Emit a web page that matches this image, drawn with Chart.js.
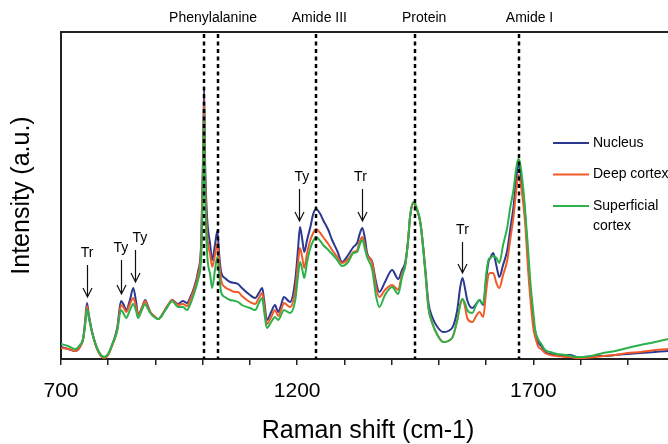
<!DOCTYPE html>
<html>
<head>
<meta charset="utf-8">
<script src="https://cdn.jsdelivr.net/npm/chart.js@4.4.1/dist/chart.umd.min.js"></script>
<style>
  html, body { margin: 0; padding: 0; background: #fff; overflow: hidden; }
  #wrap { width: 668px; height: 444px; overflow: hidden; }
</style>
</head>
<body>
<div id="wrap"><canvas id="chart" width="676" height="444"></canvas></div>
<script>
// Raman shift (cm-1)
const shift = [700, 715, 730, 740, 747, 751, 755, 759, 766, 778, 791, 800, 808, 819, 827, 833, 838, 846, 853, 859,
  863, 872, 878, 884, 889, 897, 906, 920, 931, 935, 948, 958, 967, 973, 980, 990, 997, 1001, 1003, 1005,
  1009, 1016, 1020, 1026, 1031, 1035, 1039, 1047, 1058, 1069, 1075, 1083, 1100, 1111, 1119, 1126, 1130, 1136, 1145, 1153,
  1160, 1166, 1172, 1185, 1196, 1202, 1206, 1211, 1215, 1221, 1228, 1234, 1240, 1249, 1255, 1266, 1274, 1285, 1295, 1308,
  1319, 1327, 1333, 1338, 1344, 1348, 1359, 1367, 1374, 1386, 1401, 1414, 1422, 1429, 1435, 1439, 1446, 1452, 1461, 1471,
  1478, 1486, 1497, 1509, 1528, 1539, 1545, 1550, 1556, 1560, 1571, 1579, 1586, 1594, 1600, 1605, 1609, 1615, 1622, 1628,
  1636, 1645, 1651, 1658, 1664, 1668, 1672, 1679, 1683, 1689, 1694, 1700, 1704, 1711, 1717, 1725, 1736, 1751, 1768, 1778,
  1793, 1806, 1831, 1848, 1874, 1899, 1927, 1958, 1986, 2000];

// intensity (a.u.)
const nucleus = [12, 10, 8, 12, 21, 37, 56, 44, 27, 9, 2, 5, 14, 31, 58, 54, 49, 59, 71, 57,
  45, 52, 59, 53, 47, 43, 40, 49, 57, 59, 55, 58, 56, 61, 69, 87, 119, 209, 271, 199,
  144, 114, 99, 114, 128, 104, 87, 81, 77, 76, 75, 71, 64, 61, 66, 71, 59, 39, 47, 54,
  47, 54, 62, 57, 79, 111, 132, 119, 107, 119, 132, 145, 150, 145, 139, 129, 119, 108, 97, 104,
  112, 116, 126, 131, 119, 106, 97, 77, 67, 77, 89, 80, 89, 97, 119, 142, 156, 151, 136, 92,
  56, 42, 32, 27, 31, 49, 71, 81, 69, 59, 51, 55, 59, 54, 79, 97, 101, 106, 93, 82,
  94, 109, 129, 152, 181, 194, 189, 164, 142, 99, 66, 39, 27, 16, 13, 7, 5, 4, 4, 4,
  2, 2, 3, 3, 4, 5, 6, 7, 8, 8];

const deepCortex = [11, 10, 8, 12, 20, 35, 53, 42, 26, 8, 1, 4, 13, 29, 54, 51, 47, 55, 61, 52,
  44, 52, 58, 52, 47, 43, 40, 49, 57, 59, 54, 55, 53, 59, 67, 84, 114, 199, 259, 189,
  129, 104, 92, 104, 116, 97, 79, 72, 69, 67, 67, 63, 57, 55, 61, 66, 54, 35, 42, 49,
  43, 49, 56, 52, 69, 97, 111, 101, 91, 106, 119, 126, 130, 126, 122, 115, 109, 102, 96, 100,
  107, 109, 118, 122, 112, 104, 96, 72, 62, 69, 74, 69, 85, 94, 119, 142, 156, 151, 136, 89,
  51, 36, 24, 17, 21, 39, 54, 60, 51, 41, 37, 43, 47, 42, 67, 84, 86, 86, 76, 71,
  84, 99, 119, 142, 169, 184, 179, 154, 134, 89, 59, 31, 22, 12, 10, 6, 4, 3, 2, 2,
  1, 1, 2, 3, 4, 6, 7, 9, 10, 11];

const superficialCortex = [15, 13, 10, 14, 20, 33, 50, 41, 26, 9, 2, 5, 14, 28, 49, 45, 41, 49, 55, 48,
  41, 50, 55, 50, 46, 42, 40, 48, 56, 58, 52, 52, 49, 54, 63, 79, 104, 184, 244, 174,
  109, 84, 71, 89, 102, 84, 67, 62, 59, 58, 57, 54, 51, 49, 56, 61, 48, 31, 37, 42,
  39, 44, 49, 46, 59, 84, 97, 89, 81, 97, 111, 118, 122, 118, 114, 109, 105, 99, 93, 97,
  106, 107, 115, 119, 109, 102, 89, 63, 52, 64, 72, 65, 82, 94, 119, 142, 157, 153, 136, 89,
  51, 36, 24, 17, 21, 39, 54, 60, 55, 49, 46, 54, 59, 55, 84, 99, 101, 103, 101, 96,
  114, 132, 151, 169, 191, 200, 196, 169, 147, 109, 76, 47, 29, 19, 15, 9, 7, 5, 4, 3,
  2, 2, 4, 6, 8, 11, 14, 17, 20, 21];

const xTickLabels = [700, 1200, 1700];

// dashed band markers and their captions
const bandLines = [1003, 1032, 1240, 1450, 1670];
const bandLabels = [
  { text: "Phenylalanine", x: 1022 },
  { text: "Amide III", x: 1247 },
  { text: "Protein", x: 1469 },
  { text: "Amide I", x: 1692 }
];

// Tr / Ty arrows (tail and tip in a.u.)
const arrows = [
  { text: "Tr", x: 755, labelX: 755, tail: 94, tip: 62 },
  { text: "Ty", x: 827, labelX: 827, tail: 99, tip: 65 },
  { text: "Ty", x: 857, labelX: 867, tail: 109, tip: 77 },
  { text: "Ty", x: 1203, labelX: 1210, tail: 170, tip: 138 },
  { text: "Tr", x: 1338, labelX: 1334, tail: 170, tip: 138 },
  { text: "Tr", x: 1550, labelX: 1550, tail: 117, tip: 86 }
];

const FONT = "'Liberation Sans', Arial, Helvetica, sans-serif";
Chart.defaults.font.family = FONT;
Chart.defaults.color = "#000";

const pts = (arr) => shift.map((s, i) => ({ x: s, y: arr[i] }));

const annotate = {
  id: "annotate",
  afterDatasetsDraw(chart) {
    const { ctx, chartArea: a, scales: { x, y } } = chart;
    ctx.save();

    // top frame line
    ctx.strokeStyle = "#222";
    ctx.lineWidth = 2;
    ctx.beginPath();
    ctx.moveTo(a.left - 1, a.top);
    ctx.lineTo(chart.width, a.top);
    ctx.stroke();

    // dashed band lines
    ctx.strokeStyle = "#000";
    ctx.lineWidth = 2.5;
    ctx.setLineDash([4, 3.5]);
    bandLines.forEach(v => {
      const px = Math.round(x.getPixelForValue(v));
      ctx.beginPath();
      ctx.moveTo(px, a.top + 2);
      ctx.lineTo(px, a.bottom);
      ctx.stroke();
    });
    ctx.setLineDash([]);

    ctx.fillStyle = "#000";
    ctx.font = "14px " + FONT;
    ctx.textAlign = "center";
    ctx.textBaseline = "middle";
    bandLabels.forEach(b => ctx.fillText(b.text, x.getPixelForValue(b.x), a.top - 14));

    // arrows
    ctx.lineWidth = 1.2;
    ctx.strokeStyle = "#111";
    arrows.forEach(ar => {
      const px = Math.round(x.getPixelForValue(ar.x)) + 0.5;
      const t0 = y.getPixelForValue(ar.tail);
      const t1 = y.getPixelForValue(ar.tip);
      ctx.beginPath();
      ctx.moveTo(px, t0);
      ctx.lineTo(px, t1);
      ctx.moveTo(px - 4.5, t1 - 9);
      ctx.lineTo(px, t1);
      ctx.lineTo(px + 4.5, t1 - 9);
      ctx.stroke();
      ctx.fillText(ar.text, x.getPixelForValue(ar.labelX), t0 - 12);
    });

    // legend
    ctx.textAlign = "left";
    const lx = a.left + 492;
    let ly = 143;
    chart.data.datasets.forEach(ds => {
      ctx.strokeStyle = ds.borderColor;
      ctx.lineWidth = 2;
      ctx.beginPath();
      ctx.moveTo(lx, ly);
      ctx.lineTo(lx + 36, ly);
      ctx.stroke();
      const lines = Array.isArray(ds.label) ? ds.label : [ds.label];
      lines.forEach((t, k) => ctx.fillText(t, lx + 40, ly + k * 20));
      ly += 31.5;
    });

    ctx.restore();
  }
};

new Chart(document.getElementById("chart"), {
  type: "line",
  data: {
    datasets: [
      { label: "Nucleus", data: pts(nucleus), borderColor: "#2b3990", order: 3 },
      { label: "Deep cortex", data: pts(deepCortex), borderColor: "#f15a29", order: 2 },
      { label: ["Superficial", "cortex"], data: pts(superficialCortex), borderColor: "#2db14b", order: 1 }
    ]
  },
  options: {
    responsive: false,
    animation: false,
    layout: { padding: { top: 32, right: 1, left: 0, bottom: 0 } },
    elements: {
      point: { radius: 0 },
      line: { borderWidth: 2, cubicInterpolationMode: "monotone", fill: false }
    },
    plugins: { legend: { display: false }, tooltip: { enabled: false } },
    scales: {
      x: {
        type: "linear",
        min: 700,
        max: 2000,
        afterFit(s) { s.height = 85; s.paddingLeft = 0; s.paddingRight = 0; },
        ticks: {
          stepSize: 100,
          autoSkip: false,
          maxRotation: 0,
          padding: 14,
          color: "#000",
          font: { size: 21 },
          callback: v => xTickLabels.includes(v) ? String(v) : ""
        },
        grid: { display: true, drawOnChartArea: false, drawTicks: true, tickLength: 6, color: "#222", lineWidth: 1.5 },
        border: { display: true, color: "#222", width: 2 },
        title: { display: true, text: "Raman shift (cm-1)", color: "#000", font: { size: 25, lineHeight: 1.04 }, padding: 0 }
      },
      y: {
        min: 0,
        max: 327,
        afterFit(s) { s.width = 61; },
        ticks: { display: false },
        grid: { display: false },
        border: { display: true, color: "#222", width: 2 },
        title: { display: true, text: "Intensity (a.u.)", color: "#000", font: { size: 25, lineHeight: 1.04 }, padding: { top: 9, bottom: 0 } }
      }
    }
  },
  plugins: [annotate]
});
</script>
</body>
</html>
